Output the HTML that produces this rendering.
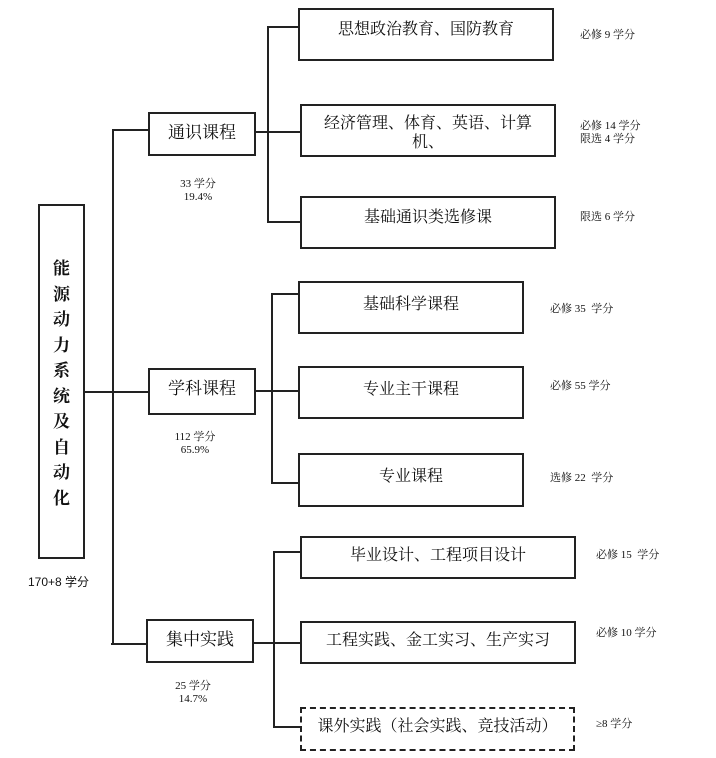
<!DOCTYPE html>
<html><head><meta charset="utf-8"><style>
body{margin:0;width:716px;height:758px;background:#fff;position:relative;overflow:hidden;font-family:"Liberation Serif","Noto Serif CJK SC",serif;color:#111}
.b{position:absolute;border:2px solid #222;box-sizing:border-box;text-align:center;font-size:16px;line-height:20px}
.d{border-style:dashed}
.l{position:absolute;background:#222}
.t{position:absolute;font-size:11px;line-height:13px;white-space:nowrap}
.c{text-align:center}
</style></head><body>
<!-- main -->
<div class="b" style="left:38px;top:204px;width:47px;height:355px;padding-top:50px;font-size:17px;line-height:25.5px;font-weight:bold">能<br>源<br>动<br>力<br>系<br>统<br>及<br>自<br>动<br>化</div>
<div class="t" style="left:28px;top:576px;font-size:12px;font-family:'Liberation Sans','Noto Sans CJK SC',sans-serif">170+8 学分</div>
<div class="l" style="left:84px;top:391px;width:64px;height:2px"></div>
<div class="l" style="left:112px;top:129px;width:2px;height:516px"></div>
<div class="l" style="left:112px;top:129px;width:36px;height:2px"></div>
<div class="l" style="left:111px;top:643px;width:36px;height:2px"></div>

<!-- level 2 -->
<div class="b" style="left:148px;top:112px;width:108px;height:44px;padding-top:9px;font-size:17px">通识课程</div>
<div class="t c" style="left:168px;top:178px;width:60px">33 学分<br>19.4%</div>
<div class="b" style="left:148px;top:368px;width:108px;height:47px;padding-top:9px;font-size:17px">学科课程</div>
<div class="t c" style="left:165px;top:431px;width:60px">112 学分<br>65.9%</div>
<div class="b" style="left:146px;top:619px;width:108px;height:44px;padding-top:9px;font-size:17px">集中实践</div>
<div class="t c" style="left:163px;top:680px;width:60px">25 学分<br>14.7%</div>

<!-- group 1 -->
<div class="l" style="left:255px;top:131px;width:45px;height:2px"></div>
<div class="l" style="left:267px;top:26px;width:2px;height:197px"></div>
<div class="l" style="left:267px;top:26px;width:31px;height:2px"></div>
<div class="l" style="left:267px;top:221px;width:33px;height:2px"></div>
<div class="b" style="left:298px;top:8px;width:256px;height:53px;padding-top:10px">思想政治教育、国防教育</div>
<div class="b" style="left:300px;top:104px;width:256px;height:53px;padding-top:8px;line-height:19px">经济管理、体育、英语、计算<br>机、</div>
<div class="b" style="left:300px;top:196px;width:256px;height:53px;padding-top:10px">基础通识类选修课</div>
<div class="t" style="left:580px;top:29px">必修 9 学分</div>
<div class="t" style="left:580px;top:120px">必修 14 学分<br>限选 4 学分</div>
<div class="t" style="left:580px;top:211px">限选 6 学分</div>

<!-- group 2 -->
<div class="l" style="left:255px;top:390px;width:45px;height:2px"></div>
<div class="l" style="left:271px;top:293px;width:2px;height:191px"></div>
<div class="l" style="left:271px;top:293px;width:28px;height:2px"></div>
<div class="l" style="left:271px;top:482px;width:28px;height:2px"></div>
<div class="b" style="left:298px;top:281px;width:226px;height:53px;padding-top:12px">基础科学课程</div>
<div class="b" style="left:298px;top:366px;width:226px;height:53px;padding-top:12px">专业主干课程</div>
<div class="b" style="left:298px;top:453px;width:226px;height:54px;padding-top:12px">专业课程</div>
<div class="t" style="left:550px;top:303px">必修 35 &nbsp;学分</div>
<div class="t" style="left:550px;top:380px">必修 55 学分</div>
<div class="t" style="left:550px;top:472px">选修 22 &nbsp;学分</div>

<!-- group 3 -->
<div class="l" style="left:253px;top:642px;width:48px;height:2px"></div>
<div class="l" style="left:273px;top:551px;width:2px;height:177px"></div>
<div class="l" style="left:273px;top:551px;width:28px;height:2px"></div>
<div class="l" style="left:273px;top:726px;width:28px;height:2px"></div>
<div class="b" style="left:300px;top:536px;width:276px;height:43px;padding-top:8px">毕业设计、工程项目设计</div>
<div class="b" style="left:300px;top:621px;width:276px;height:43px;padding-top:8px">工程实践、金工实习、生产实习</div>
<div class="b d" style="left:300px;top:707px;width:275px;height:44px;padding-top:8px">课外实践（社会实践、竞技活动）</div>
<div class="t" style="left:596px;top:549px">必修 15 &nbsp;学分</div>
<div class="t" style="left:596px;top:627px">必修 10 学分</div>
<div class="t" style="left:596px;top:718px">≥8 学分</div>
</body></html>
